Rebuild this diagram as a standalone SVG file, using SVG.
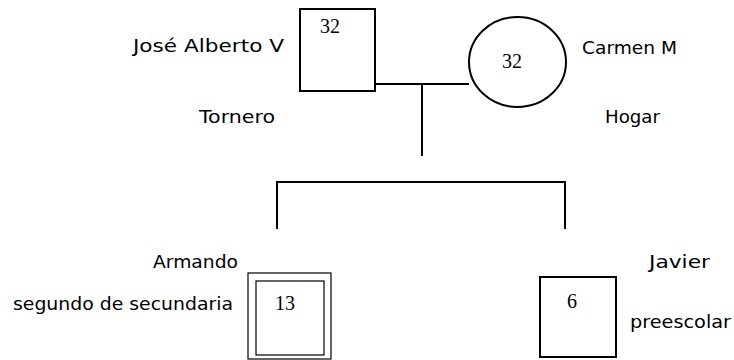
<svg xmlns="http://www.w3.org/2000/svg" width="734" height="360" viewBox="0 0 734 360">
  <style>
    .shape { fill: #fff; stroke: #000; stroke-width: 2; }
    .thin { fill: none; stroke: #000; stroke-width: 1.2; }
    .link { fill: none; stroke: #000; stroke-width: 2; }
    .label { font-family: "DejaVu Sans", "Liberation Sans", sans-serif; font-size: 18px; fill: #000; }
    .age { font-family: "Liberation Serif", "DejaVu Serif", serif; font-size: 20px; fill: #000; }
  </style>
  <rect width="734" height="360" fill="#fff"/>

  <!-- connectors: couple line, descent line, sibship bar -->
  <g id="connectors">
    <path class="link" d="M375 84 H469"/>
    <path class="link" d="M422 84 V156"/>
    <path class="link" d="M277 229 V182 H565 V229"/>
  </g>

  <g id="jose-alberto">
    <rect class="shape" x="300" y="9" width="75" height="82"/>
    <text class="age" x="320" y="33">32</text>
    <text class="label" x="133" y="52" textLength="151" lengthAdjust="spacingAndGlyphs">José Alberto V</text>
    <text class="label" x="199" y="123" textLength="76" lengthAdjust="spacingAndGlyphs">Tornero</text>
  </g>

  <g id="carmen">
    <ellipse class="shape" cx="517.5" cy="62" rx="48.5" ry="45"/>
    <text class="age" x="502" y="68">32</text>
    <text class="label" x="582" y="54" textLength="95" lengthAdjust="spacingAndGlyphs">Carmen M</text>
    <text class="label" x="605" y="123" textLength="55" lengthAdjust="spacingAndGlyphs">Hogar</text>
  </g>

  <g id="armando">
    <rect class="thin" x="248" y="273" width="83" height="86"/>
    <rect class="thin" x="256" y="281" width="68" height="74"/>
    <text class="age" x="275" y="310">13</text>
    <text class="label" x="153" y="268" textLength="85" lengthAdjust="spacingAndGlyphs">Armando</text>
    <text class="label" x="13" y="310" textLength="220" lengthAdjust="spacingAndGlyphs">segundo de secundaria</text>
  </g>

  <g id="javier">
    <rect class="shape" x="540" y="277" width="76" height="80"/>
    <text class="age" x="567" y="308">6</text>
    <text class="label" x="649" y="268" textLength="61" lengthAdjust="spacingAndGlyphs">Javier</text>
    <text class="label" x="630" y="328" textLength="101" lengthAdjust="spacingAndGlyphs">preescolar</text>
  </g>
</svg>
